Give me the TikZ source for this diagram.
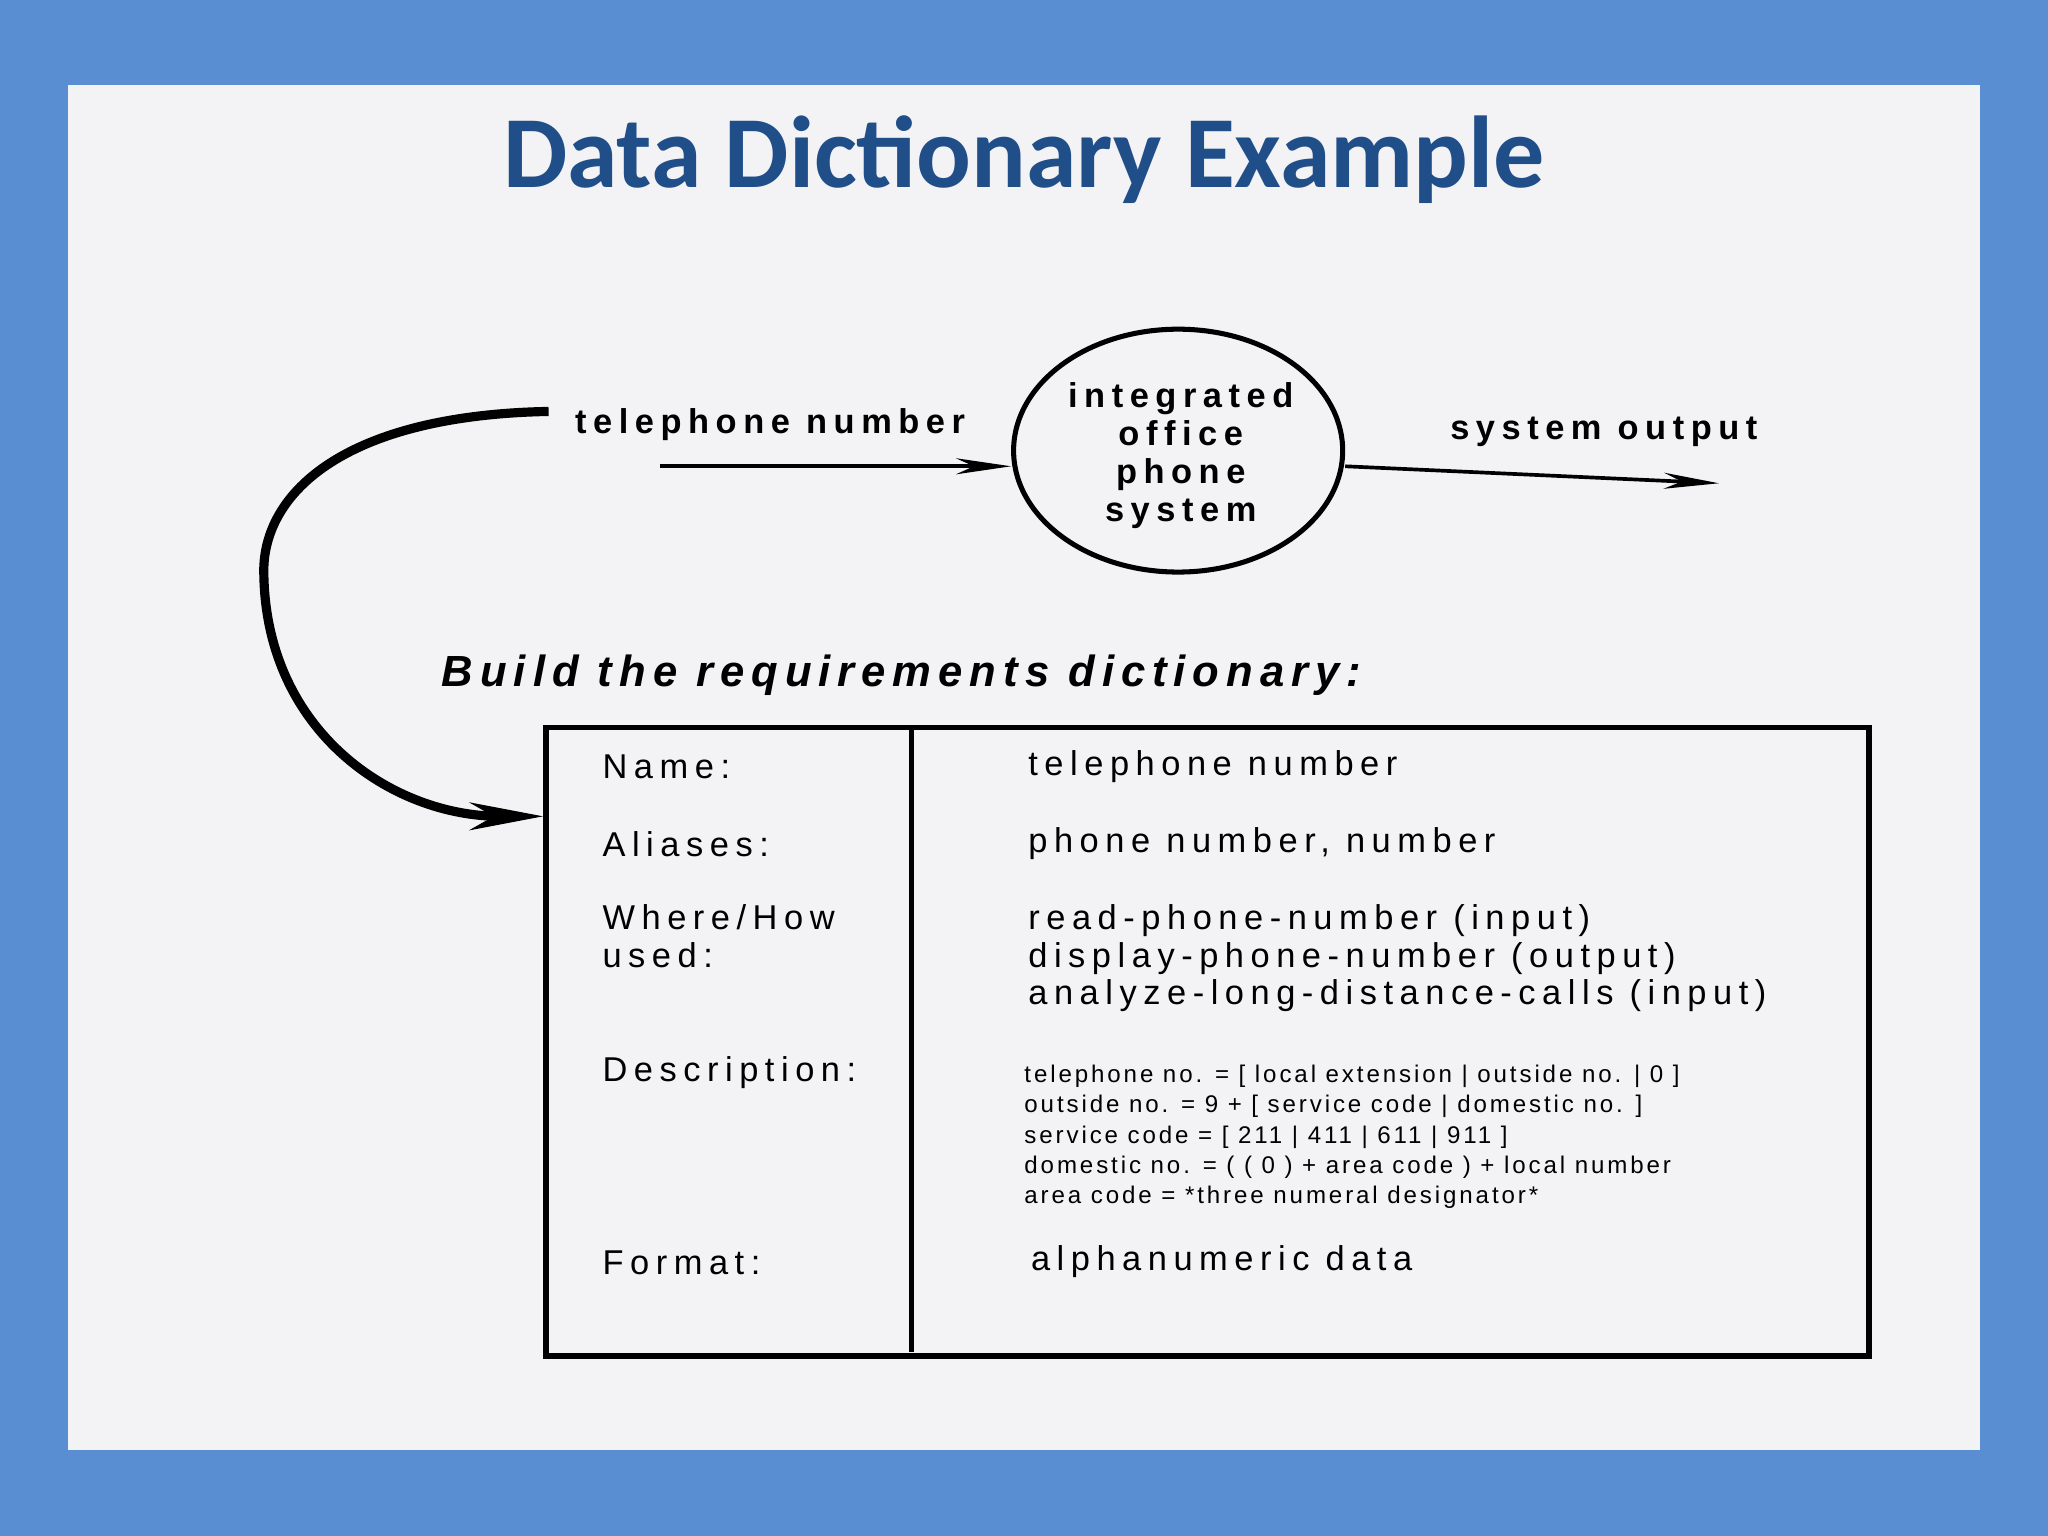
\documentclass[tikz,border=0pt]{standalone}
\usepackage{fontspec}
\setmainfont{Liberation Sans}
\newfontfamily\titlefont{Carlito}
\newfontfamily\wide[LetterSpace=19]{Liberation Sans}
\newfontfamily\widesm[LetterSpace=12]{Liberation Sans}
\newfontfamily\wideit[LetterSpace=16]{Liberation Sans}
\usetikzlibrary{arrows.meta,shapes.geometric}
\definecolor{bgblue}{HTML}{5A8ED3}
\definecolor{panel}{HTML}{F3F2F4}
\definecolor{titleblue}{HTML}{1F4E89}
\tikzset{
 lbl/.style={anchor=west,inner sep=0pt,font=\wide\fontsize{15}{18}\selectfont},
 desc/.style={anchor=north west,inner sep=0pt,font=\widesm\fontsize{10.5}{13.2}\selectfont,align=left},
 flow/.style={line width=1.6pt,-{Stealth[length=24pt,width=7pt]}},
 flowlbl/.style={inner sep=0pt,font=\wide\bfseries\fontsize{15}{17}\selectfont}
}
\begin{document}
\begin{tikzpicture}[x=0.02cm,y=-0.02cm]
\fill[bgblue] (0,0) rectangle (1568,1176);
\fill[panel] (52,65) rectangle (1516,1110);
\node[text=titleblue,font=\titlefont\bfseries\fontsize{44.5}{50}\selectfont] (title) at (784,122) {Data Dictionary Example};
% process
\node[ellipse,draw,line width=2.2pt,minimum width=5.04cm,minimum height=3.72cm,inner sep=0pt] (proc) at (902,345) {};
\node[flowlbl,align=center,font=\wide\bfseries\fontsize{15}{16.5}\selectfont] (ptext) at (904,349) {integrated\\office\\phone\\system};
\node[flowlbl,anchor=west] (tn) at (440,325) {telephone number};
\node[flowlbl,anchor=west] (so) at (1110,331) {system output};
\coordinate (a1) at (505,357);
\coordinate (b2) at (1316,370);
\draw[flow] (a1) -- (proc.west |- a1);
\draw[flow] (proc.east |- a1) -- (b2);
% curve
\coordinate (c1) at (420,315); \coordinate (c2) at (416,625);
\draw[line width=4pt,-{Stealth[length=32pt,width=12pt]}] (c1) .. controls (260,318) and (200,380) .. (202,440) .. controls (204,560) and (300,625) .. (c2);
\node[anchor=west,inner sep=0pt,font=\wideit\bfseries\itshape\fontsize{19}{22}\selectfont] (build) at (338,517) {Build the requirements dictionary:};
% table
\draw[line width=2.4pt] (418,557) rectangle (1431,1038);
\draw[line width=2.4pt] (698,557) -- (698,1035);
\node[lbl] (n1) at (461,587) {Name:};
\node[lbl] (n2) at (461,646) {Aliases:};
\node[lbl,anchor=north west,align=left,font=\wide\fontsize{15}{16.5}\selectfont] (n3) at (461,692) {Where/How\\used:};
\node[lbl] (n4) at (461,821) {Description:};
\node[lbl] (n5) at (461,967) {Format:};
\node[lbl] (v1) at (787,587) {telephone number};
\node[lbl] (v2) at (787,646) {phone number, number};
\node[lbl,anchor=north west,align=left,font=\wide\fontsize{15}{16.5}\selectfont] (v3) at (787,692) {read-phone-number (input)\\display-phone-number (output)\\analyze-long-distance-calls (input)};
\node[desc] (v4) at (784,815) {telephone no. = [ local extension \textbar\ outside no. \textbar\ 0 ]\\
outside no. = 9 + [ service code \textbar\ domestic no. ]\\
service code = [ 211 \textbar\ 411 \textbar\ 611 \textbar\ 911 ]\\
domestic no. = ( ( 0 ) + area code ) + local number\\
area code = *three numeral designator*};
\node[lbl] (v5) at (789,966) {alphanumeric data};
\end{tikzpicture}
\end{document}
